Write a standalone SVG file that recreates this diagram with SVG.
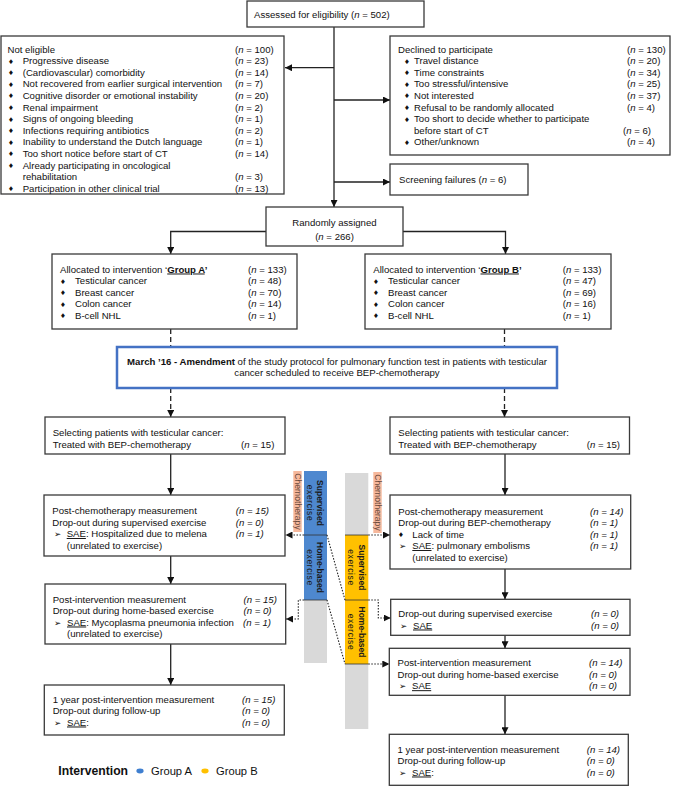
<svg xmlns="http://www.w3.org/2000/svg" width="677" height="786" viewBox="0 0 677 786">
<style>
.box{fill:#fff;stroke:#3a3a3a;stroke-width:1.3}
.t{font-family:"Liberation Sans",Arial,sans-serif;font-size:9.6px;fill:#111}
.i{font-style:italic}
.b{font-weight:bold}
.u{text-decoration:underline}
.bul{font-family:"DejaVu Sans",sans-serif;font-size:6.5px;fill:#111}
.arr{font-family:"DejaVu Sans",sans-serif;font-size:8.5px;fill:#111}
.ln{stroke:#222;stroke-width:1.3;fill:none}
.dash{stroke-dasharray:5 3}
.dot{stroke:#222;stroke-width:1.1;fill:none;stroke-dasharray:1.5 1.5}
.rot{font-family:"Liberation Sans",Arial,sans-serif;font-size:8.5px;fill:#1a1a1a;text-anchor:middle}
.chemo{font-family:"Liberation Sans",Arial,sans-serif;font-size:8.6px;fill:#6a4a3c;text-anchor:middle}
</style>
<defs>
<marker id="ah" markerWidth="7" markerHeight="7" refX="7" refY="3.5" orient="auto" markerUnits="userSpaceOnUse"><path d="M0,0 L7,3.5 L0,7 z" fill="#111"/></marker>
</defs>
<rect width="677" height="786" fill="#fff"/>

<!-- bars -->
<g id="bars">
<rect x="293.3" y="471" width="8.4" height="61" fill="#F6B89C"/>
<text class="chemo" transform="translate(297.5,501.5) rotate(90)" x="0" y="3">Chemotherapy</text>
<rect x="304" y="471" width="23" height="129" fill="#4E88CF"/>
<rect x="304" y="600" width="23" height="63" fill="#D9D9D9"/>
<line x1="304" y1="535" x2="327" y2="535" stroke="#333" stroke-width="0.8"/>
<line x1="304" y1="600" x2="327" y2="600" stroke="#333" stroke-width="0.8"/>
<g transform="translate(315.5,503) rotate(90)"><text class="rot b" x="0" y="-1.5">Supervised</text><text class="rot" x="0" y="8.5" letter-spacing="0.6">exercise</text></g>
<g transform="translate(315.5,567.5) rotate(90)"><text class="rot b" x="0" y="-1.5">Home-based</text><text class="rot" x="0" y="8.5" letter-spacing="0.6">exercise</text></g>

<rect x="345" y="473" width="23.3" height="62" fill="#D9D9D9"/>
<rect x="345" y="535" width="23.3" height="129" fill="#FFC000"/>
<rect x="345" y="664" width="23.3" height="65" fill="#D9D9D9"/>
<line x1="345" y1="535" x2="368.3" y2="535" stroke="#333" stroke-width="0.8"/>
<line x1="345" y1="600" x2="368.3" y2="600" stroke="#333" stroke-width="0.8"/>
<line x1="345" y1="664" x2="368.3" y2="664" stroke="#333" stroke-width="0.8"/>
<g transform="translate(356.7,567.5) rotate(90)"><text class="rot b" x="0" y="-2">Supervised</text><text class="rot" x="0" y="8.5" letter-spacing="0.6">exercise</text></g>
<g transform="translate(356.7,632) rotate(90)"><text class="rot b" x="0" y="-2">Home-based</text><text class="rot" x="0" y="8.5" letter-spacing="0.6">exercise</text></g>
<rect x="373.3" y="472" width="8.4" height="61" fill="#F6B89C"/>
<text class="chemo" transform="translate(377.5,502.5) rotate(90)" x="0" y="3">Chemotherapy</text>
</g>

<!-- connectors -->
<g id="connectors">
<line class="ln" x1="334" y1="27" x2="334" y2="207" marker-end="url(#ah)"/>
<line class="ln" x1="334" y1="67.7" x2="285" y2="67.7" marker-end="url(#ah)"/>
<line class="ln" x1="334" y1="100" x2="390" y2="100" marker-end="url(#ah)"/>
<line class="ln" x1="334" y1="182" x2="390" y2="182" marker-end="url(#ah)"/>
<path class="ln" d="M266,231.5 H170.7 V254" marker-end="url(#ah)"/>
<path class="ln" d="M403,231.5 H505.5 V254" marker-end="url(#ah)"/>
<line class="ln dash" x1="170.7" y1="329" x2="170.7" y2="347"/>
<line class="ln dash" x1="170.7" y1="388" x2="170.7" y2="417" marker-end="url(#ah)"/>
<line class="ln dash" x1="504.5" y1="329" x2="504.5" y2="347"/>
<line class="ln dash" x1="504.5" y1="388" x2="504.5" y2="417" marker-end="url(#ah)"/>
<line class="ln" x1="170.7" y1="454" x2="170.7" y2="495" marker-end="url(#ah)"/>
<line class="ln" x1="505" y1="454" x2="505" y2="495" marker-end="url(#ah)"/>
<line class="ln" x1="170.7" y1="556" x2="170.7" y2="584" marker-end="url(#ah)"/>
<line class="ln" x1="170.7" y1="644" x2="170.7" y2="685" marker-end="url(#ah)"/>
<line class="ln" x1="505" y1="569" x2="505" y2="599.3" marker-end="url(#ah)"/>
<line class="ln" x1="505" y1="635.3" x2="505" y2="648.3" marker-end="url(#ah)"/>
<line class="ln" x1="505" y1="695.3" x2="505" y2="734.3" marker-end="url(#ah)"/>
<path class="dot" d="M304,535 H285.5" marker-end="url(#ah)"/>
<path class="dot" d="M368.3,535 H390" marker-end="url(#ah)"/>
<path class="dot" d="M304,600 H298.3 V619 H286" marker-end="url(#ah)"/>
<path class="dot" d="M368.3,600 H378.3 V618 H390.7" marker-end="url(#ah)"/>
<path class="dot" d="M368.3,664 H389.3" marker-end="url(#ah)"/>
<path class="dot" stroke-width="0.8" d="M327,535 L345,600"/>
<path class="dot" stroke-width="0.8" d="M327,600 L345,664"/>
</g>

<g id="assessed">
<rect class="box" x="247" y="1" width="177" height="26"/>
<text class="t" x="254" y="18">Assessed for eligibility (<tspan class="i">n</tspan> = 502)</text>
</g>

<g id="not-eligible">
<rect class="box" x="1" y="36" width="283" height="158"/>
<text class="t" x="7.5" y="52.5">Not eligible</text>
<text class="t" x="235" y="52.5">(<tspan class="i">n</tspan> = 100)</text>
<g class="bul" text-anchor="middle">
<text x="11" y="63.6">♦</text><text x="11" y="75.2">♦</text><text x="11" y="86.8">♦</text><text x="11" y="98.4">♦</text><text x="11" y="110">♦</text><text x="11" y="121.6">♦</text><text x="11" y="133.2">♦</text><text x="11" y="144.8">♦</text><text x="11" y="156.4">♦</text><text x="11" y="168">♦</text><text x="11" y="191.2">♦</text>
</g>
<text class="t" x="22.7" y="64.1">Progressive disease</text><text class="t" x="235" y="64.1">(<tspan class="i">n</tspan> = 23)</text>
<text class="t" x="22.7" y="75.7">(Cardiovascular) comorbidity</text><text class="t" x="235" y="75.7">(<tspan class="i">n</tspan> = 14)</text>
<text class="t" x="22.7" y="87.3">Not recovered from earlier surgical intervention</text><text class="t" x="235" y="87.3">(<tspan class="i">n</tspan> = 7)</text>
<text class="t" x="22.7" y="98.9">Cognitive disorder or emotional instability</text><text class="t" x="235" y="98.9">(<tspan class="i">n</tspan> = 20)</text>
<text class="t" x="22.7" y="110.5">Renal impairment</text><text class="t" x="235" y="110.5">(<tspan class="i">n</tspan> = 2)</text>
<text class="t" x="22.7" y="122.1">Signs of ongoing bleeding</text><text class="t" x="235" y="122.1">(<tspan class="i">n</tspan> = 1)</text>
<text class="t" x="22.7" y="133.7">Infections requiring antibiotics</text><text class="t" x="235" y="133.7">(<tspan class="i">n</tspan> = 2)</text>
<text class="t" x="22.7" y="145.3">Inability to understand the Dutch language</text><text class="t" x="235" y="145.3">(<tspan class="i">n</tspan> = 1)</text>
<text class="t" x="22.7" y="156.9">Too short notice before start of CT</text><text class="t" x="235" y="156.9">(<tspan class="i">n</tspan> = 14)</text>
<text class="t" x="22.7" y="168.5">Already participating in oncological</text>
<text class="t" x="22.7" y="180.1">rehabilitation</text><text class="t" x="235" y="180.1">(<tspan class="i">n</tspan> = 3)</text>
<text class="t" x="22.7" y="191.7">Participation in other clinical trial</text><text class="t" x="235" y="191.7">(<tspan class="i">n</tspan> = 13)</text>
</g>

<g id="declined">
<rect class="box" x="390" y="36" width="280" height="119"/>
<text class="t" x="398" y="52.5">Declined to participate</text><text class="t" x="627" y="52.5">(<tspan class="i">n</tspan> = 130)</text>
<g class="bul" text-anchor="middle">
<text x="407" y="63.6">♦</text><text x="407" y="75.2">♦</text><text x="407" y="86.8">♦</text><text x="407" y="98.4">♦</text><text x="407" y="110">♦</text><text x="407" y="121.6">♦</text><text x="407" y="144.8">♦</text>
</g>
<text class="t" x="414" y="64.1">Travel distance</text><text class="t" x="627" y="64.1">(<tspan class="i">n</tspan> = 20)</text>
<text class="t" x="414" y="75.7">Time constraints</text><text class="t" x="627" y="75.7">(<tspan class="i">n</tspan> = 34)</text>
<text class="t" x="414" y="87.3">Too stressful/intensive</text><text class="t" x="627" y="87.3">(<tspan class="i">n</tspan> = 25)</text>
<text class="t" x="414" y="98.9">Not interested</text><text class="t" x="627" y="98.9">(<tspan class="i">n</tspan> = 37)</text>
<text class="t" x="414" y="110.5">Refusal to be randomly allocated</text><text class="t" x="627" y="110.5">(<tspan class="i">n</tspan> = 4)</text>
<text class="t" x="414" y="122.1">Too short to decide whether to participate</text>
<text class="t" x="414" y="133.7">before start of CT</text><text class="t" x="623" y="133.7">(<tspan class="i">n</tspan> = 6)</text>
<text class="t" x="414" y="145.3">Other/unknown</text><text class="t" x="627" y="145.3">(<tspan class="i">n</tspan> = 4)</text>
</g>

<g id="screening">
<rect class="box" x="390" y="164" width="138" height="31"/>
<text class="t" x="399" y="182.5">Screening failures (<tspan class="i">n</tspan> = 6)</text>
</g>

<g id="randomly">
<rect class="box" x="266" y="207" width="137" height="39"/>
<text class="t" x="334.5" y="225.5" text-anchor="middle">Randomly assigned</text>
<text class="t" x="334.5" y="239.5" text-anchor="middle">(<tspan class="i">n</tspan> = 266)</text>
</g>

<g id="group-a">
<rect class="box" x="52" y="254" width="245" height="75"/>
<text class="t" x="60" y="272.5">Allocated to intervention ‘<tspan class="b u">Group A</tspan><tspan class="b">’</tspan></text><text class="t" x="248" y="272.5">(<tspan class="i">n</tspan> = 133)</text>
<g class="bul" text-anchor="middle"><text x="63" y="283.5">♦</text><text x="63" y="295">♦</text><text x="63" y="306.5">♦</text><text x="63" y="318">♦</text></g>
<text class="t" x="75" y="284">Testicular cancer</text><text class="t" x="248" y="284">(<tspan class="i">n</tspan> = 48)</text>
<text class="t" x="75" y="295.5">Breast cancer</text><text class="t" x="248" y="295.5">(<tspan class="i">n</tspan> = 70)</text>
<text class="t" x="75" y="307">Colon cancer</text><text class="t" x="248" y="307">(<tspan class="i">n</tspan> = 14)</text>
<text class="t" x="75" y="318.5">B-cell NHL</text><text class="t" x="248" y="318.5">(<tspan class="i">n</tspan> = 1)</text>
</g>

<g id="group-b">
<rect class="box" x="365" y="254" width="246" height="75"/>
<text class="t" x="373.3" y="272.5">Allocated to intervention ‘<tspan class="b u">Group B</tspan><tspan class="b">’</tspan></text><text class="t" x="562.7" y="272.5">(<tspan class="i">n</tspan> = 133)</text>
<g class="bul" text-anchor="middle"><text x="376" y="283.5">♦</text><text x="376" y="295">♦</text><text x="376" y="306.5">♦</text><text x="376" y="318">♦</text></g>
<text class="t" x="388" y="284">Testicular cancer</text><text class="t" x="562.7" y="284">(<tspan class="i">n</tspan> = 47)</text>
<text class="t" x="388" y="295.5">Breast cancer</text><text class="t" x="562.7" y="295.5">(<tspan class="i">n</tspan> = 69)</text>
<text class="t" x="388" y="307">Colon cancer</text><text class="t" x="562.7" y="307">(<tspan class="i">n</tspan> = 16)</text>
<text class="t" x="388" y="318.5">B-cell NHL</text><text class="t" x="562.7" y="318.5">(<tspan class="i">n</tspan> = 1)</text>
</g>

<g id="amendment">
<rect x="117" y="347" width="440" height="41" fill="#fff" stroke="#4472C4" stroke-width="2.5"/>
<text class="t" x="337" y="364.5" text-anchor="middle"><tspan class="b">March ’16 - Amendment</tspan> of the study protocol for pulmonary function test in patients with testicular</text>
<text class="t" x="337" y="375.5" text-anchor="middle">cancer scheduled to receive BEP-chemotherapy</text>
</g>

<g id="select-a">
<rect class="box" x="45" y="417" width="240" height="37"/>
<text class="t" x="52.7" y="435.8">Selecting patients with testicular cancer:</text>
<text class="t" x="52.7" y="447.5">Treated with BEP-chemotherapy</text><text class="t" x="241" y="447.5">(<tspan class="i">n</tspan> = 15)</text>
</g>
<g id="select-b">
<rect class="box" x="390" y="417" width="239.5" height="37"/>
<text class="t" x="398.3" y="435.8">Selecting patients with testicular cancer:</text>
<text class="t" x="398.3" y="447.5">Treated with BEP-chemotherapy</text><text class="t" x="586.7" y="447.5">(<tspan class="i">n</tspan> = 15)</text>
</g>

<g id="postchemo-a">
<rect class="box" x="44" y="495" width="241" height="61"/>
<text class="t" x="52.3" y="514">Post-chemotherapy measurement</text><text class="t i" x="235.7" y="514">(n = 15)</text>
<text class="t" x="52.3" y="525.5">Drop-out during supervised exercise</text><text class="t i" x="235.7" y="525.5">(n = 0)</text>
<text class="arr" x="54" y="537">➢</text><text class="t" x="66.7" y="537"><tspan class="u">SAE</tspan>: Hospitalized due to melena</text><text class="t i" x="235.7" y="537">(n = 1)</text>
<text class="t" x="66.7" y="548.5">(unrelated to exercise)</text>
</g>

<g id="postchemo-b">
<rect class="box" x="390" y="495" width="240.7" height="74"/>
<text class="t" x="398.3" y="514.5">Post-chemotherapy measurement</text><text class="t i" x="590" y="514.5">(n = 14)</text>
<text class="t" x="398.3" y="526">Drop-out during BEP-chemotherapy</text><text class="t i" x="590" y="526">(n = 1)</text>
<text class="bul" x="401" y="537" text-anchor="middle">♦</text><text class="t" x="412.3" y="537.5">Lack of time</text><text class="t i" x="590" y="537.5">(n = 1)</text>
<text class="arr" x="399" y="549">➢</text><text class="t" x="412.3" y="549"><tspan class="u">SAE</tspan>: pulmonary embolisms</text><text class="t i" x="590" y="549">(n = 1)</text>
<text class="t" x="412.3" y="560.5">(unrelated to exercise)</text>
</g>

<g id="postint-a">
<rect class="box" x="45" y="584" width="240.7" height="60"/>
<text class="t" x="52.7" y="602.5">Post-intervention measurement</text><text class="t i" x="243.5" y="602.5">(n = 15)</text>
<text class="t" x="52.7" y="614">Drop-out during home-based exercise</text><text class="t i" x="243.5" y="614">(n = 0)</text>
<text class="arr" x="54" y="625.5">➢</text><text class="t" x="67" y="625.5"><tspan class="u">SAE</tspan>: Mycoplasma pneumonia infection</text><text class="t i" x="243" y="625.5">(n = 1)</text>
<text class="t" x="67" y="637">(unrelated to exercise)</text>
</g>

<g id="oneyear-a">
<rect class="box" x="44.3" y="685" width="240" height="50"/>
<text class="t" x="52.7" y="702.8">1 year post-intervention measurement</text><text class="t i" x="242" y="702.8">(n = 15)</text>
<text class="t" x="52.7" y="714.2">Drop-out during follow-up</text><text class="t i" x="242" y="714.2">(n = 0)</text>
<text class="arr" x="54" y="725.5">➢</text><text class="t" x="67" y="725.5"><tspan class="u">SAE</tspan>:</text><text class="t i" x="242" y="725.5">(n = 0)</text>
</g>

<g id="dropout-sup-b">
<rect class="box" x="390.7" y="599.3" width="239.3" height="36"/>
<text class="t" x="398.3" y="616.8">Drop-out during supervised exercise</text><text class="t i" x="591" y="616.8">(n = 0)</text>
<text class="arr" x="400" y="628.5">➢</text><text class="t" x="413" y="628.5"><tspan class="u">SAE</tspan></text><text class="t i" x="591" y="628.5">(n = 0)</text>
</g>

<g id="postint-b">
<rect class="box" x="389.3" y="648.3" width="240.7" height="47"/>
<text class="t" x="397.5" y="666.2">Post-intervention measurement</text><text class="t i" x="589" y="666.2">(n = 14)</text>
<text class="t" x="397.5" y="678">Drop-out during home-based exercise</text><text class="t i" x="589" y="678">(n = 0)</text>
<text class="arr" x="399" y="689.2">➢</text><text class="t" x="412" y="689.2"><tspan class="u">SAE</tspan></text><text class="t i" x="589" y="689.2">(n = 0)</text>
</g>

<g id="oneyear-b">
<rect class="box" x="389.3" y="734.3" width="239" height="51"/>
<text class="t" x="397.5" y="752.8">1 year post-intervention measurement</text><text class="t i" x="586.7" y="752.8">(n = 14)</text>
<text class="t" x="397.5" y="764.2">Drop-out during follow-up</text><text class="t i" x="586.7" y="764.2">(n = 0)</text>
<text class="arr" x="399" y="775.5">➢</text><text class="t" x="412" y="775.5"><tspan class="u">SAE</tspan>:</text><text class="t i" x="586.7" y="775.5">(n = 0)</text>
</g>

<g id="legend">
<text x="58.3" y="775.3" font-family="Liberation Sans, Arial, sans-serif" font-size="12.2px" font-weight="bold" fill="#111">Intervention</text>
<ellipse cx="140" cy="771" rx="3.6" ry="2.4" fill="#3F7FD0"/>
<text x="151" y="775" font-family="Liberation Sans, Arial, sans-serif" font-size="11.2px" fill="#111">Group A</text>
<ellipse cx="205" cy="771" rx="3.6" ry="2.4" fill="#FFC000"/>
<text x="216" y="775" font-family="Liberation Sans, Arial, sans-serif" font-size="11.2px" fill="#111">Group B</text>
</g>
</svg>
